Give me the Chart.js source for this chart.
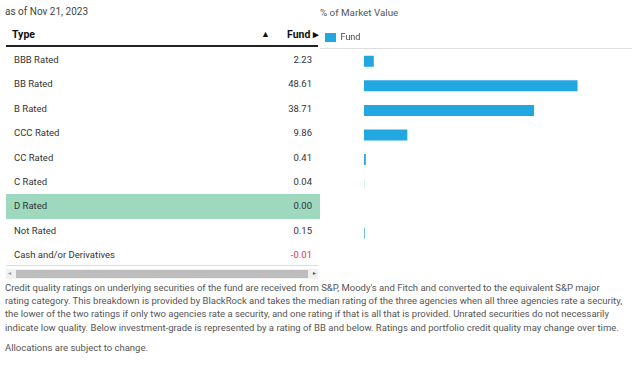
<!DOCTYPE html>
<html>
<head>
<meta charset="utf-8">
<script src="https://cdn.jsdelivr.net/npm/chart.js@4.4.0/dist/chart.umd.min.js"></script>
<style>
  html, body { margin:0; padding:0; background:#fff; }
  body { width:640px; height:365px; position:relative; overflow:hidden; font-family:"Roboto","Liberation Sans",sans-serif; color:#333; }
  .abs { position:absolute; white-space:nowrap; }
  #asof { left:5px; top:6px; font-size:10px; color:#444; }
  #mv { left:320px; top:7px; font-size:9.8px; color:#555; }
  #hdr { left:6px; top:26px; width:312px; height:19px; border-bottom:2px solid #222; }
  #hdr .t { position:absolute; left:6px; top:2px; font-size:10.5px; font-weight:bold; color:#111; }
  #hdr .s { position:absolute; left:255px; top:3px; font-size:9px; color:#111; }
  #hdr .f { position:absolute; right:-1px; top:2px; font-size:10.5px; font-weight:bold; color:#111; }
  #rline { left:320px; top:48px; width:312px; height:1px; background:#ddd; }
  #rows { left:6px; top:48px; width:314px; }
  .row { position:relative; height:24.4px; font-size:9.5px; color:#333; }
  .row .l { position:absolute; left:8px; top:6px; }
  .row .v { position:absolute; right:8px; top:6px; }
  .row.hl { background:#9dd8bf; }
  .neg { color:#e0393e; }
  #bline { left:6px; top:265px; width:312px; height:1px; background:#ddd; }
  #sb { left:6px; top:269px; width:312px; height:10px; background:#f1f1f1; }
  #sb .th { position:absolute; left:10px; top:1px; width:292px; height:8px; background:#bdbdbd; }
  #sb .a1 { position:absolute; left:2px; top:0px; font-size:6px; color:#999; }
  #sb .a2 { position:absolute; right:2px; top:0px; font-size:6px; color:#555; }
  #note { left:5px; top:281px; font-size:9.5px; line-height:13.2px; color:#555; }
  #alloc { left:5px; top:342px; font-size:9.5px; color:#555; }
  #cw { position:absolute; left:320px; top:28px; width:320px; height:242px; }
</style>
</head>
<body>
<div class="abs" id="asof">as of Nov 21, 2023</div>
<div class="abs" id="mv">% of Market Value</div>
<div class="abs" id="hdr"><span class="t">Type</span><span class="s">▲</span><span class="f">Fund ▸</span></div>
<div class="abs" id="rline"></div>
<div class="abs" id="rows"></div>
<div class="abs" id="bline"></div>
<div class="abs" id="sb"><span class="a1">◂</span><div class="th"></div><span class="a2">▸</span></div>
<div class="abs" id="note">Credit quality ratings on underlying securities of the fund are received from S&amp;P, Moody's and Fitch and converted to the equivalent S&amp;P major<br>rating category. This breakdown is provided by BlackRock and takes the median rating of the three agencies when all three agencies rate a security,<br>the lower of the two ratings if only two agencies rate a security, and one rating if that is all that is provided. Unrated securities do not necessarily<br>indicate low quality. Below investment-grade is represented by a rating of BB and below. Ratings and portfolio credit quality may change over time.</div>
<div class="abs" id="alloc">Allocations are subject to change.</div>
<div id="cw"><canvas id="c"></canvas></div>
<script>
const categories = ["BBB Rated","BB Rated","B Rated","CCC Rated","CC Rated","C Rated","D Rated","Not Rated","Cash and/or Derivatives"];
const fundValues = [2.23, 48.61, 38.71, 9.86, 0.41, 0.04, 0.00, 0.15, -0.01];
const fundLabels = ["2.23","48.61","38.71","9.86","0.41","0.04","0.00","0.15","-0.01"];
const seriesName = "Fund";

const rows = document.getElementById('rows');
categories.forEach((c, i) => {
  const r = document.createElement('div');
  r.className = 'row' + (c === 'D Rated' ? ' hl' : '');
  const l = document.createElement('span'); l.className = 'l'; l.textContent = c;
  const v = document.createElement('span'); v.className = 'v' + (fundValues[i] < 0 ? ' neg' : ''); v.textContent = fundLabels[i];
  r.appendChild(l); r.appendChild(v); rows.appendChild(r);
});

const legendShrink = {
  id: 'legendShrink',
  afterInit(chart) {
    const lg = chart.legend;
    if (!lg) return;
    const orig = lg.fit;
    lg.fit = function () { orig.call(this); this.height -= 3; };
  }
};

new Chart(document.getElementById('c'), {
  type: 'bar',
  data: {
    labels: categories,
    datasets: [{
      label: seriesName,
      data: fundValues,
      backgroundColor: '#22a7e0',
      borderWidth: 0,
      inflateAmount: 0,
      barThickness: 11
    }]
  },
  options: {
    indexAxis: 'y',
    responsive: true,
    maintainAspectRatio: false,
    animation: false,
    layout: { padding: { left: 0, right: 8, top: 0, bottom: 0 } },
    scales: {
      x: { display: false, min: 0, max: 61 },
      y: {
        display: true,
        ticks: { display: false },
        grid: { display: false },
        border: { display: false },
        afterFit(s) { s.width = 44; }
      }
    },
    plugins: {
      tooltip: { enabled: false },
      legend: {
        display: true,
        position: 'top',
        align: 'start',
        labels: { boxWidth: 11, boxHeight: 9, padding: 5, color: '#444', font: { family: 'Roboto', size: 9 } }
      }
    }
  },
  plugins: [legendShrink]
});
</script>
</body>
</html>
